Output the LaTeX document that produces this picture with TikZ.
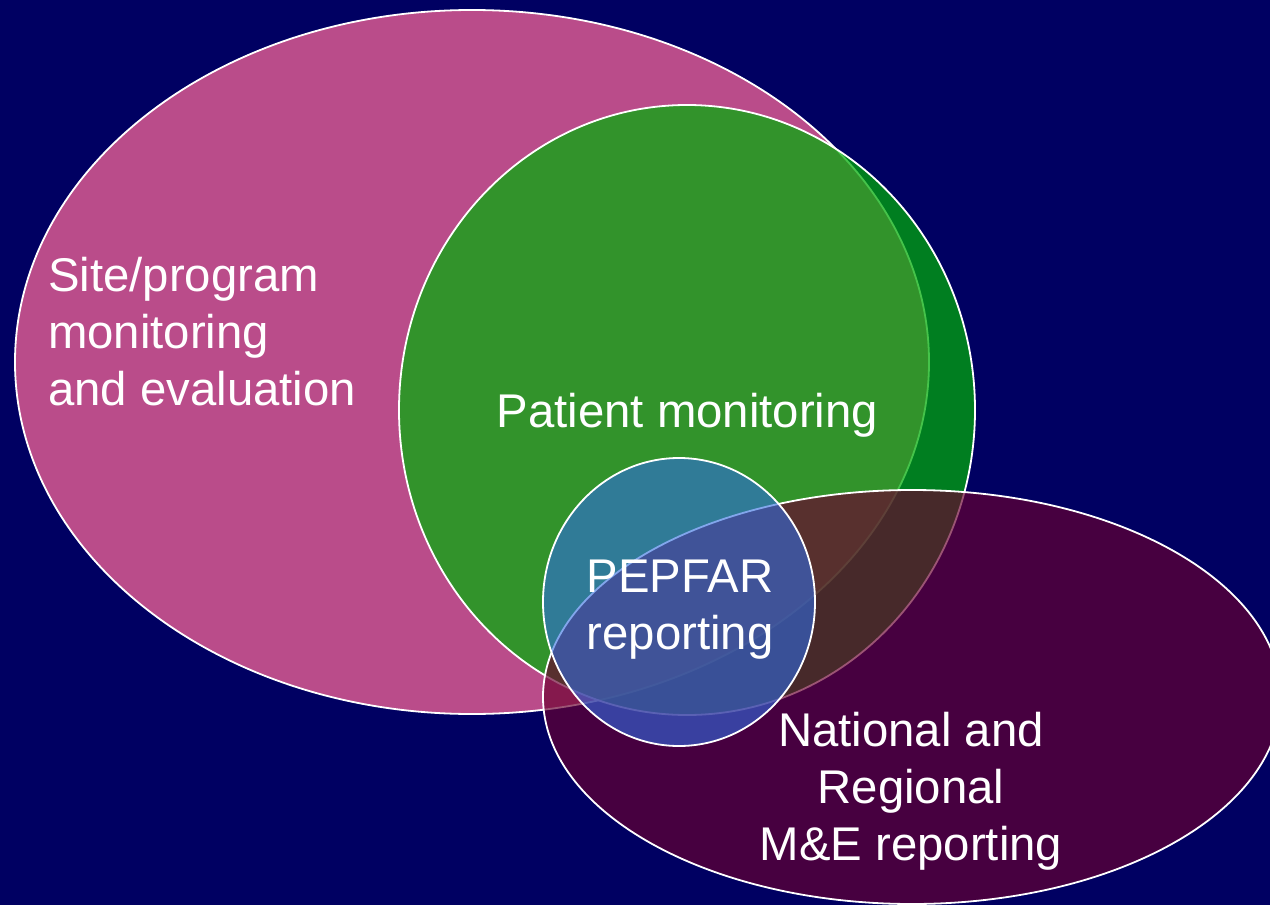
\documentclass[tikz,border=0pt]{standalone}
\usepackage{fontspec}
\setmainfont{Liberation Sans}
\definecolor{bgnavy}{RGB}{0,0,98}
\definecolor{sitepink}{RGB}{186,76,138}
\definecolor{ptgreen}{RGB}{0,174,8}
\definecolor{natmaroon}{RGB}{107,0,48}
\definecolor{pepblue}{RGB}{48,107,224}
\begin{document}
\begin{tikzpicture}[x=1bp,y=-1bp,
  ring/.style={draw=white, line width=1.8bp},
  txt/.style={text=white, font=\fontsize{47.5}{57}\selectfont, inner sep=0pt}]
  % page and background
  \fill[bgnavy] (0,0) rectangle (1270,905);
  \useasboundingbox (0,0) rectangle (1270,905);
  % overlapping areas, back to front
  \draw[ring, fill=sitepink] (472,362) ellipse [x radius=457bp, y radius=352bp];
  \draw[ring, fill=ptgreen, fill opacity=0.73] (687,410) ellipse [x radius=288bp, y radius=305bp];
  \draw[ring, fill=natmaroon, fill opacity=0.67] (912,697) ellipse [x radius=369bp, y radius=207bp];
  \draw[ring, fill=pepblue, fill opacity=0.6] (679,602) ellipse [x radius=136bp, y radius=144bp];
  % labels (base anchor sits on the last line)
  \node[txt, anchor=base west, align=left] (site) at (48,405) {Site/program\\monitoring\\and evaluation};
  \node[txt, anchor=base] (patient) at (687.5,427) {Patient monitoring};
  \node[txt, anchor=base, align=center] (pepfar) at (680,649) {PEPFAR\\reporting};
  \node[txt, anchor=base, align=center] (national) at (911,860) {National and\\Regional\\M\&E reporting};
\end{tikzpicture}
\end{document}
